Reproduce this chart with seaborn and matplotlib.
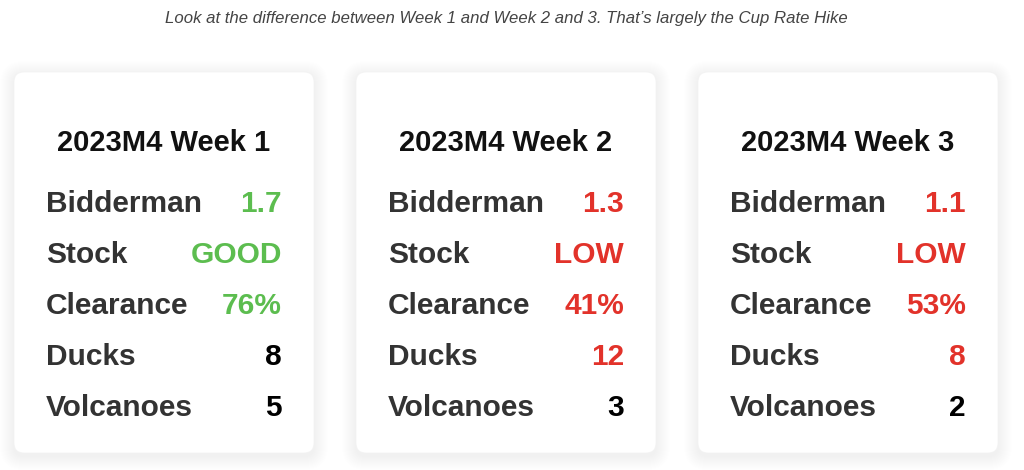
import matplotlib
matplotlib.use("Agg")
import matplotlib.pyplot as plt
import seaborn as sns
from matplotlib.patches import FancyBboxPatch

# data for the three weekly cards
weeks = ["2023M4 Week 1", "2023M4 Week 2", "2023M4 Week 3"]
metrics = ["Bidderman", "Stock", "Clearance", "Ducks", "Volcanoes"]
bidderman = ["1.7", "1.3", "1.1"]
stock = ["GOOD", "LOW", "LOW"]
clearance = ["76%", "41%", "53%"]
ducks = ["8", "12", "8"]
volcanoes = ["5", "3", "2"]

# status of every value: good / bad / neutral
bidderman_status = ["good", "bad", "bad"]
stock_status = ["good", "bad", "bad"]
clearance_status = ["good", "bad", "bad"]
ducks_status = ["neutral", "bad", "bad"]
volcanoes_status = ["neutral", "neutral", "neutral"]

subtitle = "Look at the difference between Week 1 and Week 2 and 3. That\u2019s largely the Cup Rate Hike"

values = [bidderman, stock, clearance, ducks, volcanoes]
statuses = [bidderman_status, stock_status, clearance_status, ducks_status, volcanoes_status]
colors = {"good": "#5cbd4f", "bad": "#e2322a", "neutral": "#000000"}

sns.set_theme(style="white")
plt.rcParams["font.family"] = ["Liberation Sans", "DejaVu Sans"]

fig = plt.figure(figsize=(10.24, 4.70), dpi=100)
ax = fig.add_axes([0, 0, 1, 1])
ax.set_xlim(0, 1024)
ax.set_ylim(470, 0)
ax.axis("off")

ax.text(506, 23, subtitle, ha="center", va="baseline", fontsize=12.1,
        style="italic", color="#444444")

card_w, card_h, gap = 300, 381, 42
card_top = 72
for i, week in enumerate(weeks):
    left = 14 + i * (card_w + gap)
    # soft shadow, a stack of faint rounded boxes
    for k in range(14, 0, -1):
        sh = FancyBboxPatch((left - k, card_top - k + 3), card_w + 2 * k, card_h + 2 * k,
                            boxstyle="round,pad=0,rounding_size=%d" % (10 + k),
                            linewidth=0, facecolor="black", alpha=0.0055, zorder=1)
        ax.add_patch(sh)
    card = FancyBboxPatch((left, card_top), card_w, card_h,
                          boxstyle="round,pad=0,rounding_size=10",
                          linewidth=0.5, edgecolor="#f2f2f2", facecolor="white", zorder=2)
    ax.add_patch(card)

    ax.text(left + card_w / 2, 151, week, ha="center", va="baseline",
            fontsize=21, fontweight="bold", color="#111111", zorder=3)
    for j, metric in enumerate(metrics):
        y = 212 + j * 51
        ax.text(left + 32, y, metric, ha="left", va="baseline", fontsize=21.5,
                fontweight="bold", color="#333333", zorder=3)
        ax.text(left + 268, y, values[j][i], ha="right", va="baseline", fontsize=21.5,
                fontweight="bold", color=colors[statuses[j][i]], zorder=3)

fig.savefig("out.png", dpi=100)
